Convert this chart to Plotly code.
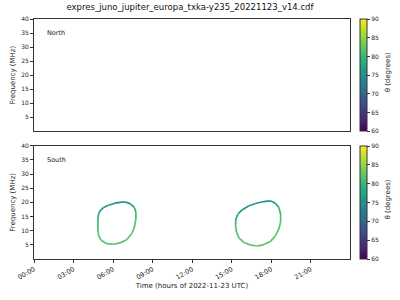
import plotly.graph_objects as go
from plotly.subplots import make_subplots
from plotly.colors import sample_colorscale

TITLE = "expres_juno_jupiter_europa_txka-y235_20221123_v14.cdf"
DAY = "2022-11-23"

# South hemisphere emission loops (time HH:MM, frequency MHz, theta deg)
loop1_time = ["06:47", "06:09", "05:39", "05:17", "05:01", "04:54", "04:51", "04:51", "04:54",
              "05:06", "05:31", "06:02", "06:32", "07:02", "07:25", "07:37", "07:44", "07:44",
              "07:37", "07:22", "07:02", "06:47"]
loop1_freq = [20.2, 19.7, 19.0, 18.2, 17.0, 15.9, 14.1, 10.6, 8.3,
              6.6, 5.4, 5.2, 5.7, 6.8, 8.9, 11.2, 14.1, 16.5,
              18.2, 19.3, 20.0, 20.2]
loop1_theta = [75.5, 75.5, 76, 76, 77, 78, 80, 81.5, 82,
               82, 82, 82, 82, 82, 82, 82, 81.5, 80,
               78, 76, 75.5, 75.5]

loop2_time = ["17:50", "17:20", "16:50", "16:19", "15:49", "15:29", "15:19", "15:18", "15:22",
              "15:34", "15:57", "16:27", "16:58", "17:27", "17:58", "18:20", "18:35", "18:43",
              "18:43", "18:35", "18:20", "18:05", "17:50"]
loop2_freq = [20.5, 20.2, 19.6, 18.8, 17.4, 15.9, 14.1, 11.8, 9.5,
              7.4, 5.8, 4.9, 4.6, 5.1, 6.3, 8.3, 10.6, 13.0,
              15.9, 18.2, 19.6, 20.3, 20.5]
loop2_theta = [75.5, 75.5, 75.5, 76, 76, 77, 79, 81, 82,
               82, 82, 82, 82, 82, 82, 82, 82, 82,
               81.5, 79, 76, 75.5, 75.5]

tick_hours = ["00:00", "03:00", "06:00", "09:00", "12:00", "15:00", "18:00", "21:00"]
y_ticks = [5, 10, 15, 20, 25, 30, 35, 40]
cbar_ticks = [60, 65, 70, 75, 80, 85, 90]
TMIN, TMAX = 60, 90

FONT = "DejaVu Sans"
AXC = "#333333"
TXT = "#222222"

fig = make_subplots(rows=2, cols=1, shared_xaxes=True)


def ts(hm):
    return f"{DAY} {hm}:00"


def add_loop(times, freqs, thetas):
    for i in range(len(times) - 1):
        th = (thetas[i] + thetas[i + 1]) / 2
        col = sample_colorscale("Viridis", [(th - TMIN) / (TMAX - TMIN)])[0]
        fig.add_trace(go.Scatter(x=[ts(times[i]), ts(times[i + 1])], y=[freqs[i], freqs[i + 1]],
                                 mode="lines", line=dict(color=col, width=1.7),
                                 showlegend=False, hoverinfo="skip"), row=2, col=1)


add_loop(loop1_time, loop1_freq, loop1_theta)
add_loop(loop2_time, loop2_freq, loop2_theta)

# colorbars (one per panel)
dom_top = [0.532, 1.0]
dom_bot = [0.0, 0.472]
for r, dom in ((1, dom_top), (2, dom_bot)):
    fig.add_trace(go.Scatter(
        x=[None], y=[None], mode="markers", showlegend=False, hoverinfo="skip",
        marker=dict(color=[TMIN], cmin=TMIN, cmax=TMAX, colorscale="Viridis", showscale=True,
                    colorbar=dict(x=1.031, xanchor="left", xpad=0, ypad=0,
                                  y=dom[0], yanchor="bottom", len=dom[1] - dom[0], lenmode="fraction",
                                  thickness=7, outlinewidth=1, outlinecolor=AXC,
                                  tickvals=cbar_ticks, ticks="outside", ticklen=3,
                                  tickcolor=AXC, tickfont=dict(size=6, family=FONT, color=TXT)))),
        row=r, col=1)
    fig.add_annotation(text="θ (degrees)", xref="paper", yref="paper", x=1.119,
                       y=(dom[0] + dom[1]) / 2 + 0.01, xanchor="center", yanchor="middle",
                       textangle=-90, showarrow=False,
                       font=dict(size=7, family=FONT, color=TXT))

xrange = [f"{DAY} 00:00:00", f"{DAY} 23:59:00"]
common_x = dict(type="date", range=xrange, showgrid=False, zeroline=False,
                showline=True, linecolor=AXC, linewidth=1, mirror=True,
                tickvals=[ts(t) for t in tick_hours], ticktext=tick_hours)
fig.update_xaxes(**common_x, showticklabels=False, ticks="", row=1, col=1)
fig.update_xaxes(**common_x, ticks="outside", ticklen=3, tickcolor=AXC, tickangle=-30,
                 tickfont=dict(size=6.5, family=FONT, color=TXT),
                 title=dict(text=f"Time (hours of {DAY} UTC)", standoff=2,
                            font=dict(size=7, family=FONT, color=TXT)), row=2, col=1)

common_y = dict(range=[0, 40], tickvals=y_ticks, showgrid=False, zeroline=False,
                showline=True, linecolor=AXC, linewidth=1, mirror=True,
                ticks="outside", ticklen=3, tickcolor=AXC,
                tickfont=dict(size=6, family=FONT, color=TXT),
                title=dict(text="Frequency (MHz)", standoff=4, font=dict(size=7, family=FONT, color=TXT)))
fig.update_yaxes(**common_y, domain=dom_top, row=1, col=1)
fig.update_yaxes(**common_y, domain=dom_bot, row=2, col=1)

fig.add_annotation(text="North", xref="x domain", yref="y domain", x=0.035, y=0.93,
                   xanchor="left", yanchor="top", showarrow=False,
                   font=dict(size=6.5, family=FONT, color=TXT))
fig.add_annotation(text="South", xref="x2 domain", yref="y2 domain", x=0.035, y=0.93,
                   xanchor="left", yanchor="top", showarrow=False,
                   font=dict(size=6.5, family=FONT, color=TXT))

fig.update_layout(
    width=400, height=300,
    margin=dict(l=32, r=50, t=19, b=38),
    paper_bgcolor="white", plot_bgcolor="white",
    title=dict(text=TITLE, x=0.475, xanchor="center", y=0.985, yanchor="top",
               font=dict(size=8.5, family=FONT, color="#111")),
    font=dict(family=FONT),
)

fig.write_html("out.html")
